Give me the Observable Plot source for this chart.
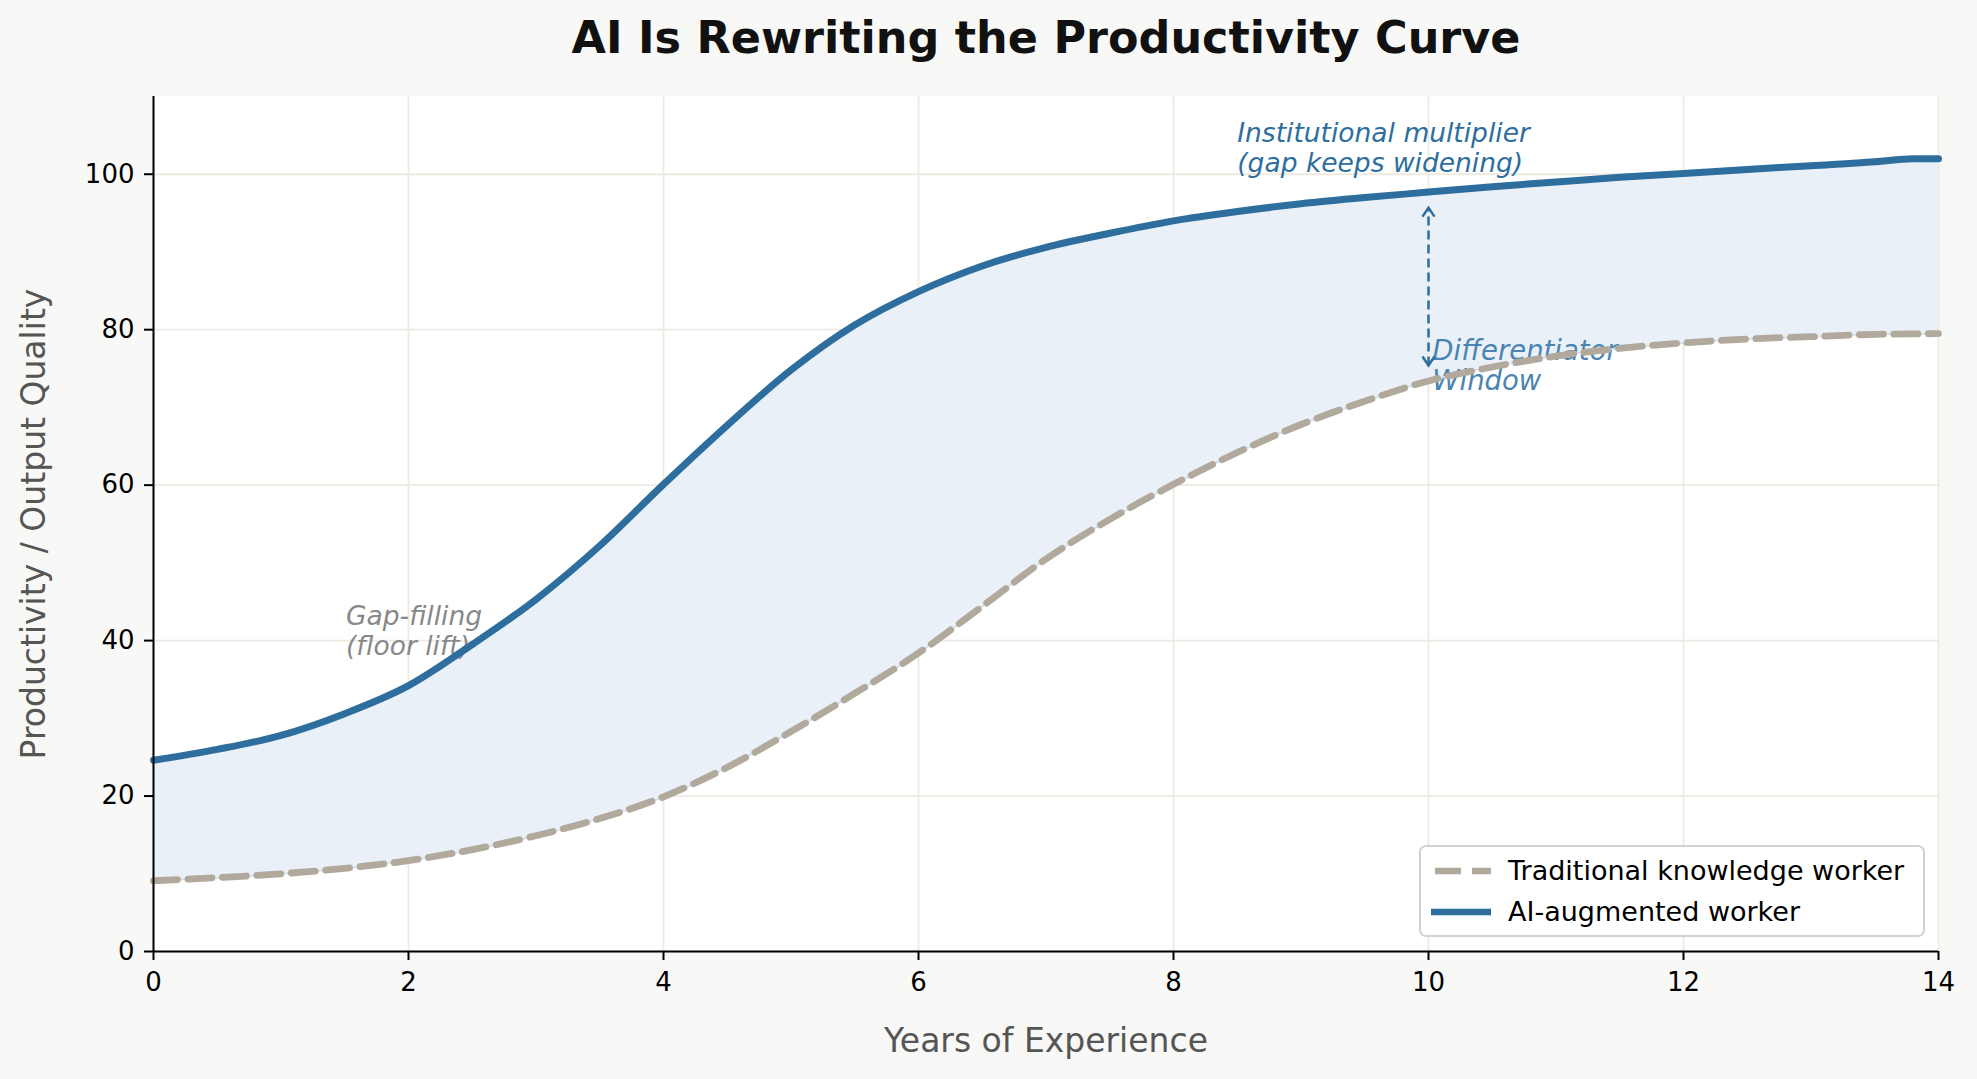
<!DOCTYPE html>
<html>
<head>
<meta charset="utf-8">
<script src="https://cdn.jsdelivr.net/npm/d3@7"></script>
<script src="https://cdn.jsdelivr.net/npm/@observablehq/plot@0.6"></script>
<style>
  html, body { margin: 0; padding: 0; background: #f8f8f6; }
  body { width: 1977px; height: 1079px; overflow: hidden; font-family: "DejaVu Sans", sans-serif; }
  #wrap { position: relative; width: 1977px; height: 1079px; }
  #title { width: 1977px; box-sizing: border-box; padding-left: 115px; height: 76px; line-height: 76px; text-align: center; font-size: 44.5px; font-weight: bold; color: #111; }
  #legend { position: absolute; left: 1419px; top: 845px; width: 502px; height: 88px; border: 2px solid #d2d2d2; border-radius: 7px; background: rgba(255,255,255,0.9); box-sizing: content-box; }
  .row { position: absolute; left: 0; height: 40px; }
  .row svg { position: absolute; left: 4px; }
  .row span { position: absolute; left: 87px; font-size: 27px; color: #000; white-space: nowrap; line-height: 40px; top: 0; }
</style>
</head>
<body>
<div id="wrap">
  <div id="title">AI Is Rewriting the Productivity Curve</div>
  <div id="chart"></div>
  <div id="legend"></div>
</div>
<script>
// ---- data ----
const years       = [0, 0.5, 1, 1.5, 2, 2.5, 3, 3.5, 4, 4.5, 5, 5.5, 6, 6.5, 7, 7.5, 8, 8.5, 9, 9.5, 10, 10.5, 11, 11.5, 12, 12.5, 13, 13.5, 13.8, 14];
const traditional = [9.1, 9.5, 10.0, 10.7, 11.7, 13.1, 14.9, 17.1, 19.9, 23.7, 28.3, 33.2, 38.4, 44.4, 50.5, 55.6, 60.1, 64.2, 67.8, 70.8, 73.4, 75.2, 76.6, 77.6, 78.3, 78.8, 79.1, 79.4, 79.45, 79.5];
const aiAugmented = [24.6, 26.0, 27.8, 30.6, 34.2, 39.5, 45.3, 52.2, 60.1, 67.7, 74.8, 80.6, 84.9, 88.2, 90.6, 92.4, 94.0, 95.2, 96.2, 97.0, 97.7, 98.4, 99.0, 99.6, 100.1, 100.6, 101.1, 101.6, 102.0, 102.0];
const xTicks = [0, 2, 4, 6, 8, 10, 12, 14];
const yTicks = [0, 20, 40, 60, 80, 100];
const seriesNames = ["Traditional knowledge worker", "AI-augmented worker"];
const annotations = [
  {x: 8.5,  y: 100.3, text: "Institutional multiplier\n(gap keeps widening)", color: "#2d6e9e", size: 26.5},
  {x: 10.03, y: 72.2, text: "Differentiator\nWindow", color: "#4a84b2", size: 27.5},
  {x: 1.51, y: 38.2, text: "Gap-filling\n(floor lift)", color: "#888888", size: 26.5}
];
const gapArrow = [{x: 10, y1: 75.4, y2: 95.7}];
const arrowTips = [
  {x: 10, y: 95.7, angle: 0},
  {x: 10, y: 75.4, angle: 180}
];

const AI_COLOR = "#2d6e9e";
const TRAD_COLOR = "#b1a99c";
const GRID = "#eeeae2";

const rows = years.map((x, i) => ({x, trad: traditional[i], ai: aiAugmented[i]}));

// open chevron pointing up, tip at the origin
const chevron = {
  draw(context) {
    context.moveTo(-6, 9);
    context.lineTo(0, 0);
    context.lineTo(6, 9);
  }
};

const chart = Plot.plot({
  width: 1977,
  height: 1003,
  marginTop: 20,
  marginBottom: 128,
  marginLeft: 153,
  marginRight: 39,
  style: {background: "transparent", fontFamily: "DejaVu Sans, sans-serif", color: "#000", overflow: "visible"},
  x: {domain: [0, 14]},
  y: {domain: [0, 110]},
  marks: [
    Plot.frame({fill: "white", stroke: "none"}),
    Plot.gridX(xTicks, {stroke: GRID, strokeOpacity: 1, strokeWidth: 1.8}),
    Plot.gridY(yTicks, {stroke: GRID, strokeOpacity: 1, strokeWidth: 1.8}),
    Plot.areaY(rows, {x: "x", y1: "trad", y2: "ai", fill: "#eaf0f7", curve: "monotone-x"}),
    Plot.text(annotations, {x: "x", y: "y", text: "text", fill: "color", fontSize: "size", textAnchor: "start", lineAnchor: "bottom", lineHeight: 1.12, fontStyle: "italic"}),
    Plot.line(rows, {x: "x", y: "trad", stroke: "#d3e2ef", strokeWidth: 2, curve: "monotone-x"}),
    Plot.line(rows, {x: "x", y: "trad", stroke: TRAD_COLOR, strokeWidth: 6.8, strokeDasharray: "24,10.5", curve: "monotone-x"}),
    Plot.line(rows, {x: "x", y: "ai", stroke: AI_COLOR, strokeWidth: 7, curve: "monotone-x"}),
    Plot.link(gapArrow, {x1: "x", x2: "x", y1: "y1", y2: "y2", stroke: AI_COLOR, strokeWidth: 2.5, strokeDasharray: "9,5"}),
    Plot.dot(arrowTips, {x: "x", y: "y", rotate: "angle", symbol: chevron, r: 6, fill: "none", stroke: AI_COLOR, strokeWidth: 2.5, strokeLinejoin: "miter"}),
    Plot.ruleX([0], {stroke: "#000", strokeWidth: 2}),
    Plot.ruleY([0], {stroke: "#000", strokeWidth: 2}),
    Plot.axisX(xTicks, {tickSize: 9, tickPadding: 12, fontSize: 26, strokeWidth: 2, tickFormat: d3.format("d"), label: null}),
    Plot.axisY(yTicks, {tickSize: 9, tickPadding: 10, fontSize: 26, strokeWidth: 2, tickFormat: d3.format("d"), label: null}),
    Plot.text(["Years of Experience"], {frameAnchor: "bottom", lineAnchor: "middle", dy: 90, fontSize: 33, fill: "#555"}),
    Plot.text(["Productivity / Output Quality"], {frameAnchor: "left", textAnchor: "middle", lineAnchor: "middle", dx: -119, rotate: -90, fontSize: 33, fill: "#555"})
  ]
});
document.getElementById("chart").appendChild(chart);

// legend
const legend = document.getElementById("legend");
const swatches = [
  {name: seriesNames[0], stroke: TRAD_COLOR, dash: "26,11", top: 4, x1: 10},
  {name: seriesNames[1], stroke: AI_COLOR, dash: null, top: 45, x1: 6}
];
for (const s of swatches) {
  const row = document.createElement("div");
  row.className = "row";
  row.style.top = s.top + "px";
  row.style.width = "500px";
  row.innerHTML = `<svg width="70" height="40" style="top:0"><line x1="${s.x1}" x2="66" y1="20" y2="20" stroke="${s.stroke}" stroke-width="6.5" ${s.dash ? `stroke-dasharray="${s.dash}"` : ""}/></svg><span>${s.name}</span>`;
  legend.appendChild(row);
}
</script>
</body>
</html>
